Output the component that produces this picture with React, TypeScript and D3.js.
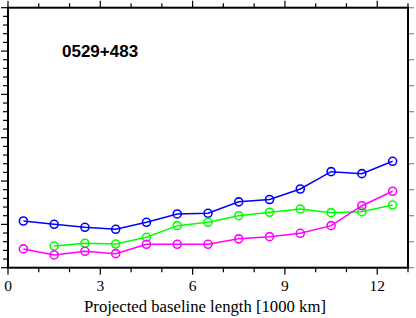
import React from "react";
import * as d3 from "d3";

const xs = [0.5, 1.5, 2.5, 3.5, 4.5, 5.5, 6.5, 7.5, 8.5, 9.5, 10.5, 11.5, 12.5];
const blue = [5.39, 5.01, 4.66, 4.43, 5.24, 6.2, 6.28, 7.6, 7.87, 9.08, 11.08, 10.85, 12.28];
const green = [null, 2.5, 2.82, 2.73, 3.51, 4.85, 5.24, 6.0, 6.4, 6.77, 6.35, 6.46, 7.23];
const magenta = [2.17, 1.47, 1.89, 1.62, 2.7, 2.7, 2.7, 3.33, 3.58, 3.97, 4.85, 7.15, 8.82];
const xTickLabels = [0, 3, 6, 9, 12];
const title = "0529+483";
const xTitle = "Projected baseline length [1000 km]";

const series = [
  { name: "blue", values: blue, color: "#0000ff" },
  { name: "green", values: green, color: "#00ff00" },
  { name: "magenta", values: magenta, color: "#ff00ff" },
];

export default function App() {
  const W = 416, H = 318;
  const L = 8, R = 408, T = 7.7, B = 267.7;
  const x = d3.scaleLinear().domain([0, 13]).range([L, R]);
  const y = d3.scaleLinear().domain([0, 30]).range([B, T]);
  const line = d3
    .line<[number, number | null]>()
    .defined((d) => d[1] != null)
    .x((d) => x(d[0]))
    .y((d) => y(d[1] as number));

  const xMinor = d3.range(0, 14, 1);
  const yLeft = d3.range(0, 31, 1);
  const yRight = d3.range(0, 31, 3);

  return (
    <svg width={W} height={H} style={{ position: "absolute", left: 0, top: 0 }}>
      <rect x={0} y={0} width={W} height={H} fill="#fff" />
      {xMinor.map((v) => {
        const major = v % 3 === 0;
        const len = major ? 7 : 4.5;
        return (
          <g key={"xt" + v} stroke="#000" strokeWidth={1.2}>
            <line x1={x(v)} x2={x(v)} y1={B} y2={B + len} />
            <line x1={x(v)} x2={x(v)} y1={T} y2={T - len} />
          </g>
        );
      })}
      {yLeft.map((v) => {
        const major = v % 5 === 0;
        const len = major ? 7 : 5;
        return (
          <line key={"yl" + v} x1={L} x2={L - len} y1={y(v)} y2={y(v)} stroke="#000" strokeWidth={1.2} />
        );
      })}
      {yRight.map((v) => (
        <line key={"yr" + v} x1={R} x2={R + 6} y1={y(v)} y2={y(v)} stroke="#888" strokeWidth={1.2} />
      ))}
      {series.map((s) => {
        const pts: [number, number | null][] = xs.map((xv, i) => [xv, s.values[i]]);
        return (
          <g key={s.name}>
            <path d={line(pts) || ""} fill="none" stroke={s.color} strokeWidth={1.5} />
            {pts
              .filter((p) => p[1] != null)
              .map((p, i) => (
                <circle
                  key={i}
                  cx={x(p[0])}
                  cy={y(p[1] as number)}
                  r={4}
                  fill="none"
                  stroke={s.color}
                  strokeWidth={1.6}
                />
              ))}
          </g>
        );
      })}
      <rect x={L} y={T} width={R - L} height={B - T} fill="none" stroke="#000" strokeWidth={2} />
      {xTickLabels.map((v) => (
        <text
          key={"xl" + v}
          x={x(v)}
          y={291}
          textAnchor="middle"
          fontFamily="'Liberation Serif', serif"
          fontSize={15.5}
          fill="#000"
        >
          {v}
        </text>
      ))}
      <text
        x={205}
        y={312}
        textAnchor="middle"
        fontFamily="'Liberation Serif', serif"
        fontSize={16.7}
        fill="#000"
      >
        {xTitle}
      </text>
      <text
        x={62}
        y={57.3}
        fontFamily="'Liberation Sans', Arial, sans-serif"
        fontWeight="bold"
        fontSize={17}
        fill="#000"
      >
        {title}
      </text>
    </svg>
  );
}
